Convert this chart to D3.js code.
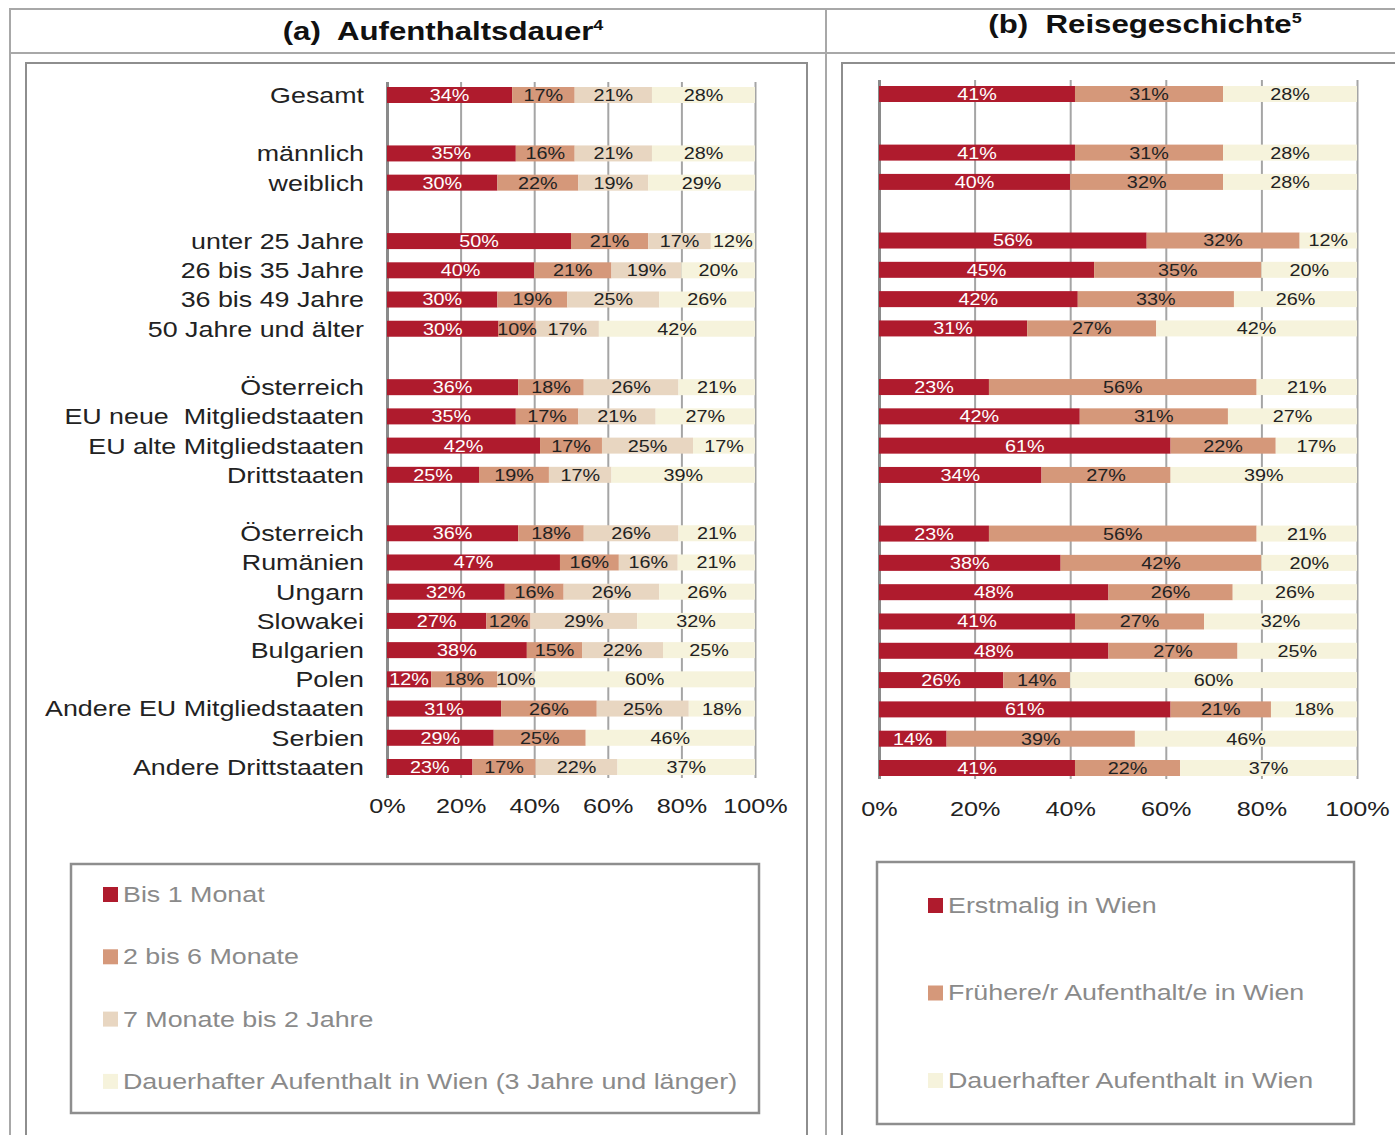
<!DOCTYPE html>
<html>
<head>
<meta charset="utf-8">
<script src="https://cdn.jsdelivr.net/npm/d3@7"></script>
<style>
  body { margin: 0; background: #fff; }
  text { font-family: "Liberation Sans", Arial, sans-serif; }
</style>
</head>
<body>
<script>
// rows (same for both panels), groups only used for the gaps between blocks
const categories = ["Gesamt", "männlich", "weiblich", "unter 25 Jahre", "26 bis 35 Jahre",
  "36 bis 49 Jahre", "50 Jahre und älter", "Österreich", "EU neue  Mitgliedstaaten",
  "EU alte Mitgliedstaaten", "Drittstaaten", "Österreich", "Rumänien", "Ungarn", "Slowakei",
  "Bulgarien", "Polen", "Andere EU Mitgliedstaaten", "Serbien", "Andere Drittstaaten"];
const groups = [0, 1, 1, 2, 2, 2, 2, 3, 3, 3, 3, 4, 4, 4, 4, 4, 4, 4, 4, 4];

// (a) Aufenthaltsdauer
const bisEinMonat = [34, 35, 30, 50, 40, 30, 30, 36, 35, 42, 25, 36, 47, 32, 27, 38, 12, 31, 29, 23];
const zweiBisSechs = [17, 16, 22, 21, 21, 19, 10, 18, 17, 17, 19, 18, 16, 16, 12, 15, 18, 26, 25, 17];
const siebenBisZwei = [21, 21, 19, 17, 19, 25, 17, 26, 21, 25, 17, 26, 16, 26, 29, 22, 10, 25, 0, 22];
const dauerhaftA = [28, 28, 29, 12, 20, 26, 42, 21, 27, 17, 39, 21, 21, 26, 32, 25, 60, 18, 46, 37];

// (b) Reisegeschichte
const erstmalig = [41, 41, 40, 56, 45, 42, 31, 23, 42, 61, 34, 23, 38, 48, 41, 48, 26, 61, 14, 41];
const frueher = [31, 31, 32, 32, 35, 33, 27, 56, 31, 22, 27, 56, 42, 26, 27, 27, 14, 21, 39, 22];
const dauerhaftB = [28, 28, 28, 12, 20, 26, 42, 21, 27, 17, 39, 21, 20, 26, 32, 25, 60, 18, 46, 37];

const tickValues = [0, 0.2, 0.4, 0.6, 0.8, 1];
const legendA = ["Bis 1 Monat", "2 bis 6 Monate", "7 Monate bis 2 Jahre",
  "Dauerhafter Aufenthalt in Wien (3 Jahre und länger)"];
const legendB = ["Erstmalig in Wien", "Frühere/r Aufenthalt/e in Wien", "Dauerhafter Aufenthalt in Wien"];

const colorsA = ["#af1b2d", "#d5987a", "#e8d6c1", "#f6f3dc"];
const colorsB = ["#af1b2d", "#d5987a", "#f6f3dc"];

const SX = 1.2; // text in the source is a bit stretched horizontally
const frame = "#a8a8a8";

const svg = d3.select("body").append("svg")
  .attr("width", 1395)
  .attr("height", 1135);

svg.append("rect").attr("width", 1395).attr("height", 1135).attr("fill", "#fff");

// outer table
svg.append("path")
  .attr("d", "M10,1135V9H1400M10,53H1400M826,9V1135")
  .attr("fill", "none").attr("stroke", frame).attr("stroke-width", 2);

// inner boxes
svg.append("rect").attr("x", 26).attr("y", 63).attr("width", 781).attr("height", 1100)
  .attr("fill", "none").attr("stroke", "#8e8e8e").attr("stroke-width", 2);
svg.append("rect").attr("x", 842).attr("y", 63).attr("width", 600).attr("height", 1100)
  .attr("fill", "none").attr("stroke", "#8e8e8e").attr("stroke-width", 2);

function title(cx, y, main, sup) {
  const t = svg.append("g").attr("transform", `translate(${cx},${y})`)
    .append("text")
    .attr("transform", `scale(${SX},1)`)
    .attr("text-anchor", "middle")
    .attr("font-size", 26).attr("font-weight", "bold").attr("fill", "#111")
    .style("white-space", "pre");
  t.append("tspan").text(main);
  t.append("tspan").attr("font-size", 15).attr("dy", -10).text(sup);
}
title(443, 40, "(a)  Aufenthaltsdauer", "4");
title(1145, 33, "(b)  Reisegeschichte", "5");

function panel(o) {
  const x = d3.scaleLinear().domain([0, 1]).range(o.xRange);
  const y = d3.scalePoint().domain(d3.range(24)).range(o.yRange);
  const slot = i => i + groups[i];
  const barH = 16;

  const rows = categories.map((c, i) => {
    const r = { i };
    o.series.forEach((s, k) => r[k] = s[i]);
    return r;
  });
  const stacked = d3.stack()
    .keys(o.series.map((s, k) => k))
    .offset(d3.stackOffsetExpand)(rows);

  // grid
  svg.append("g")
    .attr("transform", `translate(0,${o.gridBottom})`)
    .call(d3.axisBottom(x).tickValues(tickValues).tickSize(-(o.gridBottom - o.gridTop)).tickFormat(""))
    .call(g => g.select(".domain").remove())
    .call(g => g.selectAll(".tick line")
      .attr("stroke", (d) => d === 0 ? "#8a8a8a" : "#a5a5a5")
      .attr("stroke-width", (d) => d === 0 ? 3 : 2));

  // bars
  const layer = svg.append("g").selectAll("g")
    .data(stacked)
    .join("g")
    .attr("fill", (d, k) => o.colors[k]);

  layer.selectAll("rect")
    .data(d => d)
    .join("rect")
    .attr("x", d => x(d[0]))
    .attr("y", d => y(slot(d.data.i)) - barH / 2)
    .attr("width", d => x(d[1]) - x(d[0]))
    .attr("height", barH);

  // value labels
  stacked.forEach((s, k) => {
    svg.append("g").selectAll("g")
      .data(s.filter(d => d.data[k] > 0))
      .join("g")
      .attr("transform", d => `translate(${(x(d[0]) + x(d[1])) / 2},${y(slot(d.data.i))})`)
      .append("text")
      .attr("transform", `scale(${SX},1)`)
      .attr("text-anchor", "middle")
      .attr("dy", "0.36em")
      .attr("font-size", 16.5)
      .attr("fill", k === 0 ? "#fff" : "#222")
      .text(d => d.data[k] + "%");
  });

  // x tick labels
  svg.append("g")
    .attr("transform", `translate(0,${o.tickY})`)
    .call(d3.axisBottom(x).tickValues(tickValues).tickFormat(d3.format(".0%")).tickSize(0))
    .call(g => g.select(".domain").remove())
    .call(g => g.selectAll(".tick text")
      .attr("y", 0).attr("dy", null)
      .attr("transform", `scale(${SX},1)`)
      .attr("font-size", 21)
      .attr("font-family", "Liberation Sans, Arial, sans-serif")
      .attr("fill", "#222"));

  // category labels
  if (o.showLabels) {
    svg.append("g").selectAll("g")
      .data(categories)
      .join("g")
      .attr("transform", (d, i) => `translate(${o.labelX},${y(slot(i))})`)
      .append("text")
      .attr("transform", `scale(1.22,1)`)
      .attr("text-anchor", "end")
      .attr("dy", "0.36em")
      .attr("font-size", 22)
      .attr("fill", "#222")
      .style("white-space", "pre")
      .text(d => d);
  }

  // legend box
  const lg = o.legend;
  svg.append("rect")
    .attr("x", lg.x).attr("y", lg.y).attr("width", lg.w).attr("height", lg.h)
    .attr("fill", "#fff").attr("stroke", "#8e8e8e").attr("stroke-width", 2.5);
  const item = svg.append("g").selectAll("g")
    .data(lg.labels)
    .join("g")
    .attr("transform", (d, i) => `translate(${lg.sx},${lg.y0 + i * lg.step})`);
  item.append("rect")
    .attr("x", 0).attr("y", -7).attr("width", 15).attr("height", 15)
    .attr("fill", (d, i) => o.colors[i]);
  item.append("g")
    .attr("transform", "translate(20,0)")
    .append("text")
    .attr("transform", `scale(1.22,1)`)
    .attr("dy", "0.36em")
    .attr("font-size", 22)
    .attr("fill", "#8a8a8a")
    .text(d => d);
}

panel({
  series: [bisEinMonat, zweiBisSechs, siebenBisZwei, dauerhaftA],
  colors: colorsA,
  xRange: [387, 755],
  yRange: [95, 767],
  gridTop: 82, gridBottom: 778,
  tickY: 813,
  showLabels: true,
  labelX: 364,
  legend: { x: 71, y: 864, w: 688, h: 249, sx: 103, y0: 894, step: 62.3, labels: legendA }
});

panel({
  series: [erstmalig, frueher, dauerhaftB],
  colors: colorsB,
  xRange: [879, 1357],
  yRange: [94, 768],
  gridTop: 80, gridBottom: 779,
  tickY: 816,
  showLabels: false,
  legend: { x: 877, y: 862, w: 477, h: 262, sx: 928, y0: 905, step: 87.5, labels: legendB }
});
</script>
</body>
</html>
